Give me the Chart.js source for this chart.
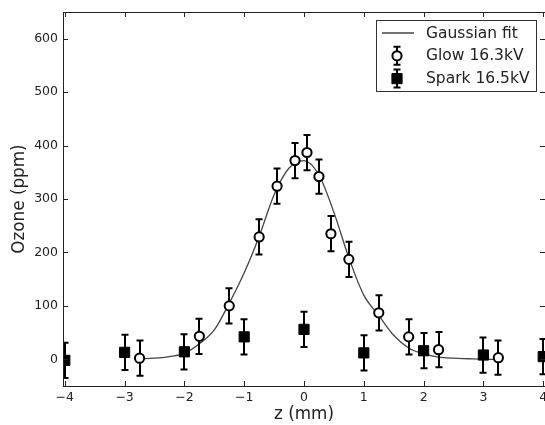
<!DOCTYPE html>
<html>
<head>
<meta charset="utf-8">
<title>Ozone vs z</title>
<script src="https://cdn.jsdelivr.net/npm/chart.js@4.4.1/dist/chart.umd.min.js"></script>
<style>
  html, body { margin: 0; padding: 0; background: #fff; }
  canvas { display: block; }
</style>
</head>
<body>
<canvas id="ozone-chart" width="545" height="425"></canvas>
<script>
// Values
const glowZ = [-2.75, -1.75, -1.25, -0.75, -0.45, -0.15, 0.05, 0.25, 0.45, 0.75, 1.25, 1.75, 2.25, 3.25];
const glowOzone = [2, 43, 100, 229, 324, 372, 387, 342, 235, 187, 87, 42, 18, 3];
const glowErr = [33, 33, 33, 33, 33, 33, 33, 32, 33, 33, 33, 33, 33, 32];

const sparkZ = [-4, -3, -2, -1, 0, 1, 2, 3, 4];
const sparkOzone = [-2, 13, 14, 42, 56, 12, 16, 8, 5];
const sparkErr = [33, 33, 33, 33, 33, 33, 33, 33, 33];

// Gaussian fit curve, read at 0.25 mm steps
const fitZ = [-2.75, -2.5, -2.25, -2, -1.75, -1.5, -1.25, -1, -0.75, -0.5, -0.25, 0,
              0.25, 0.5, 0.75, 1, 1.25, 1.5, 1.75, 2, 2.25, 2.5, 2.75, 3, 3.25];
const fitOzone = [1, 2, 5, 11, 29, 55, 105, 162, 230, 308, 358, 372,
                  345, 275, 190, 120, 82, 45, 21, 10, 4, 2, 1, 0, 0];

const xTicks = [-4, -3, -2, -1, 0, 1, 2, 3, 4];
const yTicks = [0, 100, 200, 300, 400, 500, 600];

const FONT = 'DejaVu Sans';
const TEXT = '#222';
const TICK_SIZE = 12.5;

function pairs(xs, ys) {
    return xs.map(function(x, i) { return {x: x, y: ys[i]}; });
}

function minusSign(v) {
    return v < 0 ? '\u2212' + Math.abs(v) : String(v);
}

// Vertical error bars drawn just under each marker set, clipped to the axes
const errorBarPlugin = {
    id: 'errorBars',
    beforeDatasetDraw(chart, args) {
        const ds = chart.data.datasets[args.index];
        if (!ds.errors) return;
        const ctx = chart.ctx, a = chart.chartArea;
        const xs = chart.scales.x, ys = chart.scales.y;
        ctx.save();
        ctx.beginPath();
        ctx.rect(a.left, a.top, a.right - a.left, a.bottom - a.top);
        ctx.clip();
        ctx.strokeStyle = '#000';
        ctx.lineWidth = 2;
        ds.data.forEach(function(p, i) {
            const px = Math.round(xs.getPixelForValue(p.x));
            const top = ys.getPixelForValue(p.y + ds.errors[i]);
            const bot = ys.getPixelForValue(p.y - ds.errors[i]);
            ctx.beginPath();
            ctx.moveTo(px, top); ctx.lineTo(px, bot);
            ctx.moveTo(px - 3.5, top); ctx.lineTo(px + 3.5, top);
            ctx.moveTo(px - 3.5, bot); ctx.lineTo(px + 3.5, bot);
            ctx.stroke();
        });
        ctx.restore();
    }
};

// Box round the plot with inward ticks on all four sides, plus the z tick labels
const framePlugin = {
    id: 'frame',
    afterDatasetsDraw(chart) {
        const ctx = chart.ctx, a = chart.chartArea;
        const xs = chart.scales.x, ys = chart.scales.y;
        ctx.save();
        ctx.strokeStyle = '#222';
        ctx.lineWidth = 1;
        ctx.strokeRect(a.left + 0.5, a.top + 0.5, a.right - a.left, a.bottom - a.top);
        ctx.beginPath();
        xs.ticks.forEach(function(t) {
            const px = Math.round(xs.getPixelForValue(t.value)) + 0.5;
            ctx.moveTo(px, a.bottom); ctx.lineTo(px, a.bottom - 5);
            ctx.moveTo(px, a.top); ctx.lineTo(px, a.top + 5);
        });
        ys.ticks.forEach(function(t) {
            const py = Math.round(ys.getPixelForValue(t.value)) + 0.5;
            ctx.moveTo(a.left, py); ctx.lineTo(a.left + 5, py);
            ctx.moveTo(a.right, py); ctx.lineTo(a.right - 5, py);
        });
        ctx.stroke();

        ctx.fillStyle = TEXT;
        ctx.font = TICK_SIZE + 'px "' + FONT + '"';
        ctx.textAlign = 'center';
        ctx.textBaseline = 'middle';
        xs.ticks.forEach(function(t) {
            ctx.fillText(minusSign(t.value), xs.getPixelForValue(t.value), a.bottom + 12);
        });
        ctx.restore();
    }
};

// matplotlib style legend box in the upper right corner
const boxLegendPlugin = {
    id: 'boxLegend',
    afterDraw(chart) {
        const ctx = chart.ctx, a = chart.chartArea;
        const sets = chart.data.datasets;
        const order = [2, 0, 1];
        const right = a.right - 9, top = a.top + 8;
        const left = right - 160, height = 71;
        ctx.save();
        ctx.fillStyle = '#fff';
        ctx.fillRect(left, top, right - left, height);
        ctx.strokeStyle = '#333';
        ctx.lineWidth = 1;
        ctx.strokeRect(Math.round(left) + 0.5, Math.round(top) + 0.5, right - left, height);
        ctx.font = '15.5px "' + FONT + '"';
        ctx.textBaseline = 'middle';
        order.forEach(function(idx, row) {
            const ds = sets[idx];
            const cy = top + 13 + row * 22.8;
            const hx = left + 21;
            if (ds.errors) {
                ctx.strokeStyle = '#000';
                ctx.lineWidth = 2;
                ctx.beginPath();
                ctx.moveTo(hx, cy - 9); ctx.lineTo(hx, cy + 9);
                ctx.moveTo(hx - 3.5, cy - 9); ctx.lineTo(hx + 3.5, cy - 9);
                ctx.moveTo(hx - 3.5, cy + 9); ctx.lineTo(hx + 3.5, cy + 9);
                ctx.stroke();
                ctx.fillStyle = ds.backgroundColor;
                ctx.strokeStyle = ds.borderColor;
                ctx.lineWidth = ds.borderWidth;
                ctx.beginPath();
                if (ds.pointStyle === 'rect') {
                    const s = Math.SQRT1_2 * ds.pointRadius;
                    ctx.rect(hx - s, cy - s, 2 * s, 2 * s);
                } else {
                    ctx.arc(hx, cy, ds.pointRadius, 0, Math.PI * 2);
                }
                ctx.fill();
                ctx.stroke();
            } else {
                ctx.strokeStyle = ds.borderColor;
                ctx.lineWidth = 1.5;
                ctx.beginPath();
                ctx.moveTo(left + 6, cy); ctx.lineTo(left + 38, cy);
                ctx.stroke();
            }
            ctx.fillStyle = TEXT;
            ctx.fillText(ds.label, left + 50, cy + 0.5);
        });
        ctx.restore();
    }
};

const ctx = document.getElementById('ozone-chart').getContext('2d');
window.ozoneChart = new Chart(ctx, {
    type: 'scatter',
    data: {
        datasets: [
            {
                label: 'Glow 16.3kV',
                data: pairs(glowZ, glowOzone),
                errors: glowErr,
                pointStyle: 'circle',
                pointRadius: 4.6,
                borderWidth: 2,
                borderColor: '#000',
                backgroundColor: '#fff',
                clip: 0
            },
            {
                label: 'Spark 16.5kV',
                data: pairs(sparkZ, sparkOzone),
                errors: sparkErr,
                pointStyle: 'rect',
                pointRadius: 7.2,
                borderWidth: 1,
                borderColor: '#000',
                backgroundColor: '#000',
                clip: 0
            },
            {
                label: 'Gaussian fit',
                type: 'line',
                data: pairs(fitZ, fitOzone),
                showLine: true,
                pointRadius: 0,
                borderColor: '#444',
                borderWidth: 1.3,
                cubicInterpolationMode: 'monotone',
                fill: false
            }
        ]
    },
    options: {
        responsive: false,
        animation: false,
        layout: {
            autoPadding: false,
            padding: { top: 12, right: -2, left: 0, bottom: 0 }
        },
        plugins: {
            legend: { display: false },
            tooltip: { enabled: false }
        },
        scales: {
            x: {
                type: 'linear',
                min: -4.03,
                max: 4.03,
                grid: { display: false, drawTicks: false },
                border: { display: false },
                afterBuildTicks: function(scale) {
                    scale.ticks = xTicks.map(function(v) { return {value: v}; });
                },
                afterFit: function(scale) {
                    scale.height = 39;
                },
                ticks: { display: false },
                title: {
                    display: true,
                    text: 'z (mm)',
                    color: TEXT,
                    font: { family: FONT, size: 16.8 },
                    padding: { top: 0, bottom: 0 }
                }
            },
            y: {
                type: 'linear',
                min: -50,
                max: 650,
                grid: { display: false, drawTicks: false },
                border: { display: false },
                afterBuildTicks: function(scale) {
                    scale.ticks = yTicks.map(function(v) { return {value: v}; });
                },
                afterFit: function(scale) {
                    scale.width = 63;
                    scale.paddingTop = 0;
                    scale.paddingBottom = 0;
                },
                ticks: {
                    color: TEXT,
                    font: { family: FONT, size: TICK_SIZE },
                    padding: 5,
                    callback: minusSign
                },
                title: {
                    display: true,
                    text: 'Ozone (ppm)',
                    color: TEXT,
                    font: { family: FONT, size: 16.8 },
                    padding: { top: 10, bottom: 0 }
                }
            }
        }
    },
    plugins: [errorBarPlugin, framePlugin, boxLegendPlugin]
});
</script>
</body>
</html>
